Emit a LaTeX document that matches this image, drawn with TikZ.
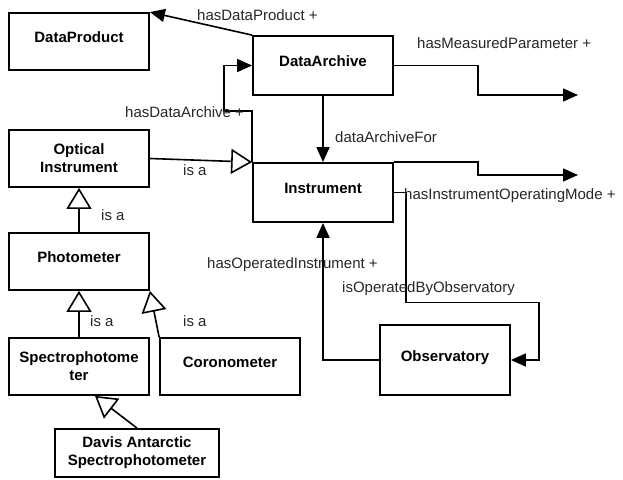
\documentclass[tikz,border=0pt]{standalone}
\usepackage{fontspec}
\setmainfont{Liberation Sans}
\usetikzlibrary{arrows.meta,calc}

\begin{document}
\begin{tikzpicture}[x=1pt,y=-1pt]
    \tikzset{block/.style = {shape=rectangle, draw, line width=1.8pt, fill=white, align=center,
                             minimum width=140pt, minimum height=57pt, inner sep=2pt,
                             font=\fontsize{15}{18}\selectfont\bfseries}}
    \tikzset{oneline/.style = {block, text height=11pt, text depth=9pt}}
    \tikzset{rel/.style = {draw, line width=1.6pt, -{Triangle[length=15pt,width=13pt]}}}
    \tikzset{isa/.style = {draw, line width=1.6pt, -{Triangle[open,length=21pt,width=25pt,line width=1.6pt]}}}
    \tikzset{lbl/.style = {anchor=base west, inner sep=0pt, text=black!85,
                           font=\fontsize{15}{18}\selectfont}}

    \useasboundingbox (0,0) rectangle (623,479);

    % vertices
    \node[oneline] (dp)   at (79,41.5)   {DataProduct};
    \node[oneline, minimum height=59pt] (da)   at (323,65.5)  {DataArchive};
    \node[block] (opt)  at (79,158.5)  {Optical\\Instrument};
    \node[oneline, minimum height=59pt] (inst) at (323,192.5) {Instrument};
    \node[oneline] (pho)  at (79,261.5)  {Photometer};
    \node[block] (spec) at (79,366.5)  {Spectrophotome\\ter};
    \node[oneline] (cor)  at (230,366.5) {Coronometer};
    \node[block, minimum width=164pt, minimum height=48pt] (davis) at (137,453) {Davis Antarctic\\Spectrophotometer};
    \node[oneline, minimum width=130pt, minimum height=70pt] (obs) at (445,360) {Observatory};

    \coordinate (mp) at (578,95);
    \coordinate (om) at (578,175);

    % edges
    \draw [rel] (da.north west) -- (dp.north east);
    \draw [rel] (inst.north west) -- ++(0,-51) -- ++(-28,0) |- (da.west);
    \draw [rel] (da.south) -- (inst.north);
    \draw [rel] (da.east) -- ++(84,0) |- (mp);
    \draw [rel] (inst.north east) -- ++(84,0) |- (om);
    \draw [rel] (inst.east) -- ++(12,0) -- ++(0,110) -- ++(133,0) |- (obs.east);
    \draw [rel] (obs.west) -| (inst.south);

    \draw [isa] (opt.east) -- (inst.north west);
    \draw [isa] (pho.north) -- (opt.south);
    \draw [isa] (spec.north) -- (pho.south);
    \draw [isa] (cor.north west) -- (pho.south east);
    \draw [isa] (davis.north) -- ($(spec.south)+(16,0)$);

    % labels
    \node[lbl] (l-dp)   at (197,20)  {hasDataProduct +};
    \node[lbl] (l-da)   at (125,117) {hasDataArchive +};
    \node[lbl] (l-daf)  at (335,142) {dataArchiveFor};
    \node[lbl] (l-mp)   at (417,48)  {hasMeasuredParameter +};
    \node[lbl] (l-om)   at (404,199) {hasInstrumentOperatingMode +};
    \node[lbl] (l-obs)  at (342,292) {isOperatedByObservatory};
    \node[lbl] (l-oi)   at (207,268) {hasOperatedInstrument +};
    \node[lbl] (l-isa1) at (183,175) {is a};
    \node[lbl] (l-isa2) at (101,220) {is a};
    \node[lbl] (l-isa3) at (90,326)  {is a};
    \node[lbl] (l-isa4) at (183,326) {is a};
\end{tikzpicture}
\end{document}
